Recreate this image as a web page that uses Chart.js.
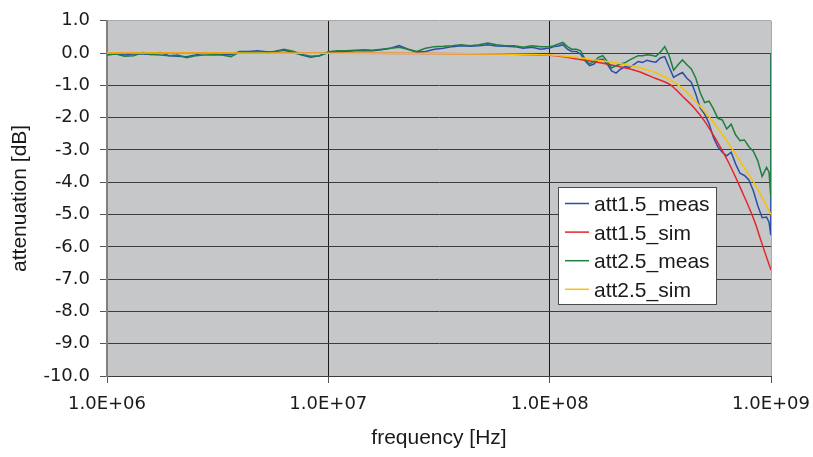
<!DOCTYPE html>
<html>
<head>
<meta charset="utf-8">
<script src="https://cdn.jsdelivr.net/npm/chart.js@4.4.0/dist/chart.umd.min.js"></script>
<style>
  html, body { margin: 0; padding: 0; background: #fff; }
  canvas { display: block; }
</style>
</head>
<body>
<canvas id="myChart" width="813" height="457"></canvas>
<script>
//Frequencies of the measured curves [Hz]
const measFreq = [
  1.00e6, 1.10e6, 1.20e6, 1.32e6, 1.45e6, 1.58e6, 1.74e6, 1.91e6, 2.09e6, 2.29e6,
  2.51e6, 2.75e6, 3.02e6, 3.31e6, 3.63e6, 3.98e6, 4.37e6, 4.79e6, 5.25e6, 5.75e6,
  6.31e6, 6.92e6, 7.59e6, 8.32e6, 9.12e6, 1.00e7,
  1.10e7, 1.20e7, 1.32e7, 1.45e7, 1.58e7, 1.74e7, 1.91e7, 2.09e7, 2.29e7, 2.51e7,
  2.75e7, 3.02e7, 3.31e7, 3.63e7, 3.98e7, 4.37e7, 4.79e7, 5.25e7, 5.75e7, 6.31e7,
  6.92e7, 7.59e7, 8.32e7, 9.12e7,
  1.000e8, 1.047e8, 1.096e8, 1.148e8, 1.202e8, 1.259e8, 1.318e8, 1.380e8, 1.445e8, 1.514e8,
  1.585e8, 1.660e8, 1.738e8, 1.820e8, 1.905e8, 1.995e8, 2.089e8, 2.188e8, 2.291e8, 2.399e8,
  2.512e8, 2.630e8, 2.754e8, 2.884e8, 3.020e8, 3.162e8, 3.311e8, 3.467e8, 3.631e8, 3.802e8,
  3.981e8, 4.169e8, 4.365e8, 4.571e8, 4.786e8, 5.012e8, 5.248e8, 5.495e8, 5.754e8, 6.026e8,
  6.310e8, 6.607e8, 6.918e8, 7.244e8, 7.586e8, 7.943e8, 8.318e8, 8.710e8, 9.120e8, 9.550e8,
  9.80e8, 9.98e8, 1.00e9
];
//att1.5 measured [dB]
const att15Meas = [
  -0.05, -0.03, -0.06, -0.03, -0.03, -0.04, 0.02, -0.08, -0.10, -0.11,
  -0.06, 0.00, -0.03, -0.04, -0.05, 0.05, 0.05, 0.07, 0.04, 0.05,
  0.09, 0.02, -0.06, -0.13, -0.08, 0.02,
  0.04, 0.05, 0.07, 0.07, 0.07, 0.10, 0.15, 0.23, 0.12, 0.03,
  0.05, 0.12, 0.15, 0.20, 0.23, 0.21, 0.23, 0.26, 0.22, 0.21,
  0.20, 0.15, 0.18, 0.12,
  0.16, 0.20, 0.22, 0.26, 0.12, 0.05, 0.05, -0.03, -0.24, -0.39,
  -0.34, -0.20, -0.19, -0.34, -0.55, -0.62, -0.50, -0.42, -0.44, -0.36,
  -0.26, -0.29, -0.22, -0.26, -0.28, -0.15, -0.11, -0.44, -0.75, -0.67,
  -0.60, -0.78, -0.90, -1.27, -1.70, -1.89, -2.18, -2.61, -2.90, -3.07,
  -3.18, -3.07, -3.43, -3.72, -3.79, -3.93, -4.26, -4.72, -5.10, -5.08,
  -5.24, -5.64, 0
];
//att2.5 measured [dB]
const att25Meas = [
  -0.05, -0.03, -0.10, -0.08, 0.02, -0.04, -0.06, -0.08, -0.06, -0.14,
  -0.08, -0.06, -0.05, -0.06, -0.11, 0.03, 0.02, 0.04, 0.02, 0.06,
  0.12, 0.06, -0.04, -0.10, -0.08, 0.04,
  0.07, 0.07, 0.09, 0.10, 0.09, 0.12, 0.15, 0.18, 0.12, 0.05,
  0.15, 0.20, 0.21, 0.23, 0.26, 0.23, 0.26, 0.31, 0.26, 0.23,
  0.23, 0.18, 0.23, 0.20,
  0.20, 0.23, 0.28, 0.33, 0.20, 0.12, 0.12, 0.07, -0.19, -0.34,
  -0.26, -0.13, -0.08, -0.26, -0.46, -0.39, -0.34, -0.30, -0.22, -0.15,
  -0.08, -0.08, -0.05, -0.07, -0.10, 0.03, 0.20, -0.08, -0.53, -0.36,
  -0.21, -0.36, -0.49, -0.77, -1.22, -1.53, -1.49, -1.73, -2.02, -2.07,
  -2.35, -2.20, -2.53, -2.71, -2.69, -2.90, -3.04, -3.33, -3.82, -3.54,
  -3.69, -4.46, 0
];
//Frequencies of the simulated curves [Hz]
const simFreq = [
  1e6, 3e6, 1e7, 3e7, 6e7, 1e8, 1.5e8, 2e8, 2.5e8, 3e8, 3.5e8, 4e8,
  4.5e8, 5e8, 5.5e8, 6e8, 6.5e8, 7e8, 7.5e8, 8e8, 8.5e8, 9e8, 9.5e8, 1e9
];
const att15Sim = [
  0, 0, -0.002, -0.01, -0.03, -0.07, -0.24, -0.40, -0.56, -0.78, -0.98, -1.35,
  -1.70, -2.10, -2.55, -3.00, -3.45, -3.92, -4.38, -4.82, -5.28, -5.80, -6.28, -6.72
];
const att25Sim = [
  0, 0, -0.002, -0.01, -0.03, -0.06, -0.18, -0.31, -0.44, -0.60, -0.83, -1.10,
  -1.45, -1.80, -2.15, -2.50, -2.85, -3.18, -3.50, -3.80, -4.08, -4.40, -4.70, -5.00
];
const seriesLabels = ["att1.5_meas", "att1.5_sim", "att2.5_meas", "att2.5_sim"];
const seriesColors = ["#2b4ea6", "#e8242b", "#1f7f3f", "#f7c200"];
const xTickValues = [1e6, 1e7, 1e8, 1e9];
const xTickLabels = ["1.0E+06", "1.0E+07", "1.0E+08", "1.0E+09"];

//Pairs frequency and value arrays into points
function toPoints(freq, values) {
  return freq.map((f, i) => ({ x: f, y: values[i] }));
}

//Gray plot background
const plotBackground = {
  id: "plotBackground",
  beforeDraw(chart) {
    const { ctx, chartArea: a } = chart;
    ctx.save();
    ctx.fillStyle = "#c6c7c9";
    ctx.fillRect(a.left, a.top, a.right - a.left, a.bottom - a.top);
    ctx.restore();
  },
};

//Boxed legend inside the plot, like the Excel one
const boxLegend = {
  id: "boxLegend",
  afterDatasetsDraw(chart) {
    const ctx = chart.ctx;
    const left = 558.5, top = 187.5, w = 158, h = 117;
    ctx.save();
    ctx.fillStyle = "#ffffff";
    ctx.fillRect(left, top, w, h);
    ctx.strokeStyle = "#4a4a4a";
    ctx.lineWidth = 1;
    ctx.strokeRect(left, top, w, h);
    ctx.font = '21px "Liberation Sans", Arial, sans-serif';
    ctx.fillStyle = "#1a1a1a";
    ctx.textBaseline = "alphabetic";
    chart.data.datasets.forEach((ds, i) => {
      const y = 203.5 + i * 28.6;
      ctx.strokeStyle = ds.borderColor;
      ctx.lineWidth = 1.5;
      ctx.beginPath();
      ctx.moveTo(565, y);
      ctx.lineTo(589, y);
      ctx.stroke();
      ctx.fillText(ds.label, 594, y + 7.5);
    });
    ctx.restore();
  },
};

let ctx = document.getElementById("myChart").getContext("2d");
let myChart = new Chart(ctx, {
  type: "line",
  data: {
    datasets: [
      { label: seriesLabels[0], data: toPoints(measFreq, att15Meas), borderColor: seriesColors[0], order: 4 },
      { label: seriesLabels[1], data: toPoints(simFreq, att15Sim), borderColor: seriesColors[1], order: 3, cubicInterpolationMode: "monotone" },
      { label: seriesLabels[2], data: toPoints(measFreq, att25Meas), borderColor: seriesColors[2], order: 2 },
      { label: seriesLabels[3], data: toPoints(simFreq, att25Sim), borderColor: seriesColors[3], order: 1, cubicInterpolationMode: "monotone" },
    ],
  },
  options: {
    responsive: false,
    animation: false,
    devicePixelRatio: 1,
    events: [],
    elements: {
      point: { radius: 0 },
      line: { borderWidth: 1.5, fill: false },
    },
    layout: { padding: { left: 0, right: 42, top: 20, bottom: 0 } },
    plugins: { legend: { display: false }, tooltip: { enabled: false } },
    scales: {
      x: {
        type: "logarithmic",
        min: 1e6,
        max: 1e9,
        afterBuildTicks: (axis) => {
          axis.ticks = xTickValues.map((v) => ({ value: v }));
        },
        afterFit: (axis) => {
          axis.height = 81;
          axis.paddingLeft = 0;
          axis.paddingRight = 0;
        },
        ticks: {
          autoSkip: false,
          maxRotation: 0,
          padding: 11,
          color: "#1a1a1a",
          font: { family: '"DejaVu Sans"', size: 18 },
          callback: (v) => xTickLabels[xTickValues.indexOf(v)],
        },
        grid: {
          color: (c) => (c.tick && c.tick.value === 1e6 ? "#7f7f7f" : c.tick && c.tick.value === 1e9 ? "#a8a8a8" : "#1a1a1a"),
          tickColor: "#555555",
          tickLength: 7,
        },
        border: { color: "#3c3c3c", width: 1 },
        title: {
          display: true,
          text: "frequency [Hz]",
          color: "#1a1a1a",
          font: { family: '"Liberation Sans"', size: 21 },
          padding: { top: 0, bottom: 6 },
        },
      },
      y: {
        min: -10,
        max: 1,
        afterFit: (axis) => {
          axis.width = 107;
        },
        ticks: {
          stepSize: 1,
          padding: 10,
          color: "#1a1a1a",
          font: { family: '"DejaVu Sans"', size: 18 },
          callback: (v) => v.toFixed(1),
        },
        grid: {
          color: (c) => (c.tick && c.tick.value === 1 ? "#a8a8a8" : "#3c3c3c"),
          tickColor: "#555555",
          tickLength: 7,
        },
        border: { color: "#7f7f7f", width: 2 },
        title: {
          display: true,
          text: "attenuation [dB]",
          color: "#1a1a1a",
          font: { family: '"Liberation Sans"', size: 21 },
          padding: { top: 8, bottom: 0 },
        },
      },
    },
  },
  plugins: [plotBackground, boxLegend],
});
</script>
</body>
</html>
